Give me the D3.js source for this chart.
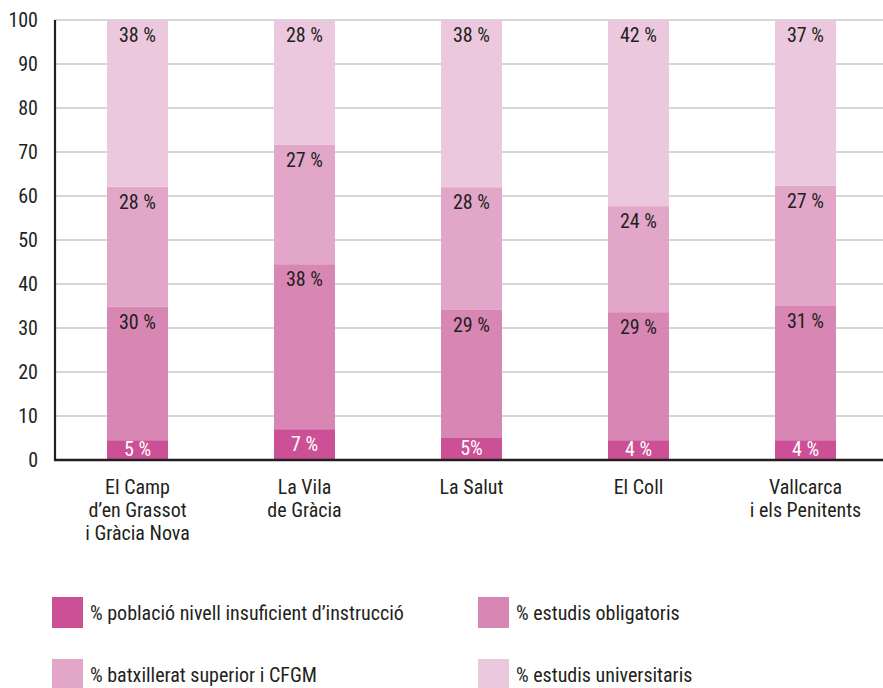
<!DOCTYPE html>
<html>
<head>
<meta charset="utf-8">
<script src="https://cdn.jsdelivr.net/npm/d3@7"></script>
<style>
  body { margin: 0; background: #fff; }
  text { font-family: "Liberation Sans Narrow", "Roboto Condensed", "Liberation Sans", sans-serif; fill: #231f20; }
</style>
</head>
<body>
<script>
// Barris (categories), one line per row of label
var barris = [
    ["El Camp", "d\u2019en Grassot", "i Gr\u00e0cia Nova"],
    ["La Vila", "de Gr\u00e0cia"],
    ["La Salut"],
    ["El Coll"],
    ["Vallcarca", "i els Penitents"]
];

// Series values (% of population), bottom to top
var insuficient   = [4.5, 7.0, 5.0, 4.5, 4.5];
var obligatoris   = [30.3, 37.5, 29.1, 29.1, 30.5];
var batxillerat   = [27.3, 27.1, 27.9, 24.1, 27.3];
var universitaris = [37.9, 28.4, 38.0, 42.3, 37.7];

// Labels as printed on the bars
var lblInsuficient   = ["5 %", "7 %", "5%", "4 %", "4 %"];
var lblObligatoris   = ["30 %", "38 %", "29 %", "29 %", "31 %"];
var lblBatxillerat   = ["28 %", "27 %", "28 %", "24 %", "27 %"];
var lblUniversitaris = ["38 %", "28 %", "38 %", "42 %", "37 %"];

var seriesNames = [
    "% poblaci\u00f3 nivell insuficient d\u2019instrucci\u00f3",
    "% estudis obligatoris",
    "% batxillerat superior i CFGM",
    "% estudis universitaris"
];
var colors = ["#cc5096", "#d886b4", "#e2a7c8", "#ecc8de"];

var yTicks = [0, 10, 20, 30, 40, 50, 60, 70, 80, 90, 100];

var w = 883, h = 688;
var fs = "20px";
var svg = d3.select("body").append("svg")
    .attr("width", w).attr("height", h);

var x = d3.scaleBand()
    .domain(d3.range(barris.length))
    .range([54, 889])
    .paddingInner(0.635)
    .paddingOuter(0.3175);

var y = d3.scaleLinear().domain([0, 100]).range([460, 20]);

// gridlines
svg.selectAll("line.grid")
   .data(yTicks.filter(function(d) { return d > 0; }))
   .enter().append("line")
   .attr("x1", 55).attr("x2", w)
   .attr("y1", function(d) { return y(d); })
   .attr("y2", function(d) { return y(d); })
   .attr("stroke", "#c8c8c8")
   .attr("stroke-width", 1.3);

// tick labels
svg.selectAll("text.tick")
   .data(yTicks)
   .enter().append("text")
   .attr("x", 38)
   .attr("y", function(d) { return y(d); })
   .attr("dy", "0.36em")
   .attr("text-anchor", "end")
   .style("font-size", fs)
   .text(function(d) { return d; });

// build stacked data
var values = [insuficient, obligatoris, batxillerat, universitaris];
var labels = [lblInsuficient, lblObligatoris, lblBatxillerat, lblUniversitaris];
var segs = [];
barris.forEach(function(b, i) {
    var base = 0;
    values.forEach(function(v, k) {
        segs.push({bar: i, k: k, y0: base, y1: base + v[i], label: labels[k][i]});
        base += v[i];
    });
});

svg.selectAll("rect.seg")
   .data(segs)
   .enter().append("rect")
   .attr("x", function(d) { return x(d.bar); })
   .attr("width", x.bandwidth())
   .attr("y", function(d) { return y(Math.min(d.y1, 100)); })
   .attr("height", function(d) { return y(d.y0) - y(Math.min(d.y1, 100)); })
   .attr("fill", function(d) { return colors[d.k]; });

svg.selectAll("text.seg")
   .data(segs)
   .enter().append("text")
   .attr("x", function(d) { return x(d.bar) + x.bandwidth() / 2; })
   .attr("y", function(d) {
       if (d.k == 0) return (y(d.y0) + y(d.y1)) / 2 - 1;
       return y(Math.min(d.y1, 100)) + 15;
   })
   .attr("dy", "0.36em")
   .attr("text-anchor", "middle")
   .style("font-size", fs)
   .style("fill", function(d) { return d.k == 0 ? "#ffffff" : "#231f20"; })
   .text(function(d) { return d.label; });

// axes lines
svg.append("line")
   .attr("x1", 55).attr("x2", 55).attr("y1", 20).attr("y2", 461)
   .attr("stroke", "#231f20").attr("stroke-width", 2.2);
svg.append("line")
   .attr("x1", 54).attr("x2", w).attr("y1", 460).attr("y2", 460)
   .attr("stroke", "#231f20").attr("stroke-width", 2.5);

// category labels
var cat = svg.selectAll("text.cat")
   .data(barris)
   .enter().append("text")
   .attr("text-anchor", "middle")
   .style("font-size", fs)
   .attr("x", function(d, i) { return x(i) + x.bandwidth() / 2; })
   .attr("y", 494);
cat.selectAll("tspan")
   .data(function(d) { return d; })
   .enter().append("tspan")
   .attr("x", function() { return d3.select(this.parentNode).attr("x"); })
   .attr("dy", function(d, j) { return j == 0 ? 0 : 23; })
   .text(function(d) { return d; });

// legend
var legPos = [[52, 597], [478, 597], [52, 659], [478, 659]];
var leg = svg.selectAll("g.leg")
   .data(seriesNames)
   .enter().append("g")
   .attr("transform", function(d, i) { return "translate(" + legPos[i][0] + "," + legPos[i][1] + ")"; });
leg.append("rect")
   .attr("width", 31).attr("height", 31)
   .attr("fill", function(d, i) { return colors[i]; });
leg.append("text")
   .attr("x", 38).attr("y", 15.5)
   .attr("dy", "0.36em")
   .style("font-size", fs)
   .text(function(d) { return d; });
</script>
</body>
</html>
